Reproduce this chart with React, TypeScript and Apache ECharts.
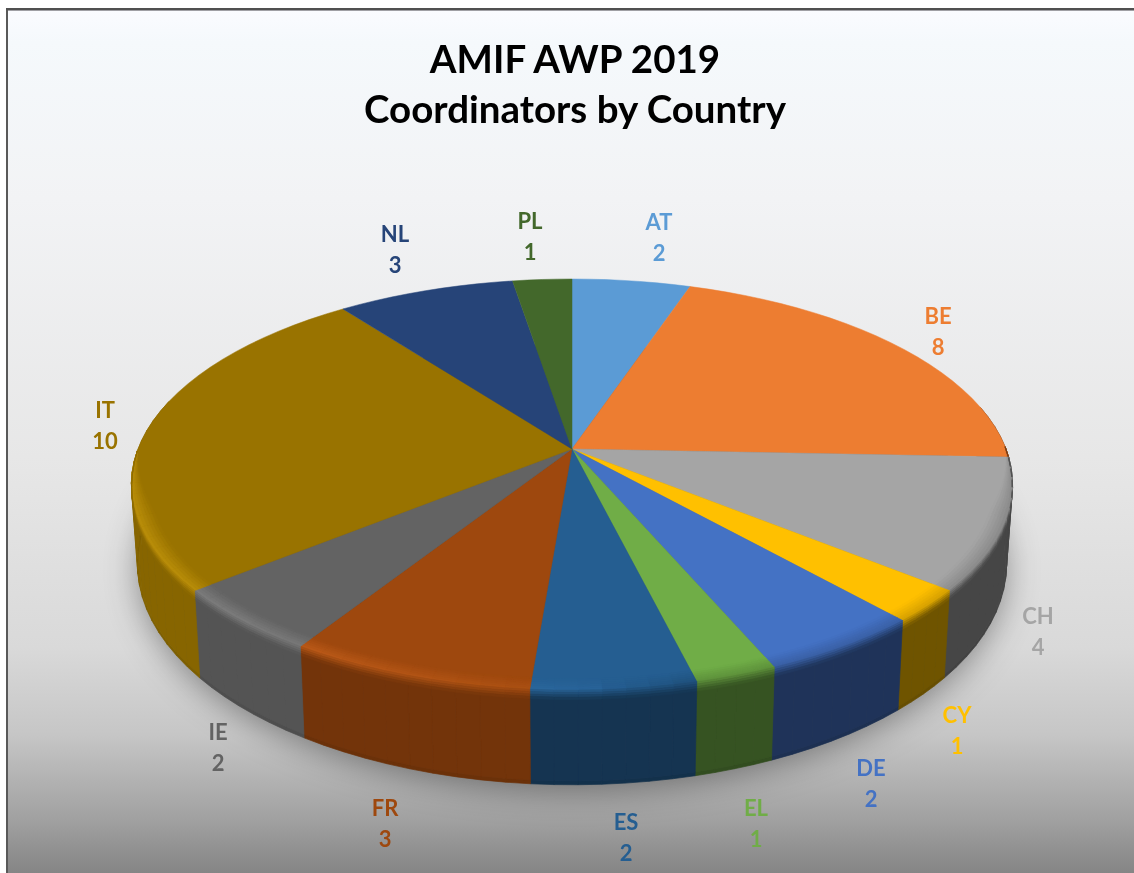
import React, { useEffect, useRef } from "react";
import * as echarts from "echarts";

const titleLines = ["AMIF AWP 2019", "Coordinators by Country"];
const countries = ["AT", "BE", "CH", "CY", "DE", "EL", "ES", "FR", "IE", "IT", "NL", "PL"];
const coordinators = [2, 8, 4, 1, 2, 1, 2, 3, 2, 10, 3, 1];
const sliceColors = ["#5b9bd5", "#ed7d31", "#a5a5a5", "#ffc000", "#4472c4", "#70ad47", "#255e91", "#9e480e", "#636363", "#997300", "#264478", "#43682b"];
const labelCentres: number[][] = [
  [659, 237], [938, 331], [1038, 631], [957, 730], [871, 783], [756, 823],
  [626, 837], [385, 823], [218, 747], [105, 425], [395, 249], [530, 236],
];

const total = coordinators.reduce((a, b) => a + b, 0);
const CX = 572;
const K = 0.173;
const TOP = { rx: 434, ry: 199.4, cy: 449 };
const BOT = { rx: 428, ry: 214, cy: 526 };
const lerp = (a: number, b: number, t: number) => a + (b - a) * t;

function project(theta: number, r: number, h: number): number[] {
  const X = r * Math.sin(theta);
  const Y = r * Math.cos(theta);
  const w = 1 + K * Y;
  return [CX + (lerp(TOP.rx, BOT.rx, h) * X) / w, lerp(TOP.cy, BOT.cy, h) - (lerp(TOP.ry, BOT.ry, h) * Y) / w];
}

function sliceAngles(i: number): number[] {
  let before = 0;
  for (let j = 0; j < i; j++) before += coordinators[j];
  return [(before / total) * Math.PI * 2, ((before + coordinators[i]) / total) * Math.PI * 2];
}

function segments(a0: number, a1: number): number[] {
  const n = Math.max(1, Math.ceil((a1 - a0) / ((3 * Math.PI) / 180)));
  const out: number[] = [];
  for (let i = 0; i <= n; i++) out.push(lerp(a0, a1, i / n));
  return out;
}

function rgb(hex: string): number[] {
  return [1, 3, 5].map((i) => parseInt(hex.slice(i, i + 2), 16));
}
const css = (c: number[]) => `rgb(${c.map((v) => Math.max(0, Math.min(255, Math.round(v)))).join(",")})`;

// brightness of the side wall by horizontal position on the disc
const wallX = [-1, -0.65, -0.3, 0.1, 0.3, 0.45, 0.65, 1];
const wallF = [0.88, 0.85, 0.72, 0.55, 0.48, 0.46, 0.44, 0.42];
function wallFactor(X: number): number {
  for (let i = 1; i < wallX.length; i++) {
    if (X <= wallX[i]) return lerp(wallF[i - 1], wallF[i], (X - wallX[i - 1]) / (wallX[i] - wallX[i - 1]));
  }
  return wallF[wallF.length - 1];
}

const RIM_STRIPS = 10;

function topItem(params: any) {
  const i = params.dataIndex;
  const [a0, a1] = sliceAngles(i);
  const pts = [[CX, TOP.cy], ...segments(a0, a1).map((t) => project(t, 1, 0))];
  return { type: "polygon", shape: { points: pts }, style: { fill: sliceColors[i], stroke: sliceColors[i], lineWidth: 0.5 } };
}

function sideItem(params: any) {
  const i = params.dataIndex;
  const [a0, a1] = sliceAngles(i);
  const ts = segments(a0, a1).filter((t) => Math.cos(t) < 0.25);
  const base = rgb(sliceColors[i]);
  const f = wallFactor(Math.sin((a0 + a1) / 2));
  const c = css(base.map((v) => v * f));
  const d = css(base.map((v) => v * f * 0.93));
  const children: any[] = [];
  // one quad per step: a single polygon would fold over itself at the disc's silhouette
  for (let s = 0; s < ts.length - 1; s++) {
    children.push({
      type: "polygon",
      shape: { points: [project(ts[s], 1, 0.96), project(ts[s + 1], 1, 0.96), project(ts[s + 1], 1, 1), project(ts[s], 1, 1)] },
      style: { fill: d, stroke: d, lineWidth: 0.7 },
    });
    children.push({
      type: "polygon",
      shape: { points: [project(ts[s], 1, 0), project(ts[s + 1], 1, 0), project(ts[s + 1], 1, 0.96), project(ts[s], 1, 0.96)] },
      style: { fill: c, stroke: c, lineWidth: 0.7 },
    });
  }
  return { type: "group", children };
}

function rimItem(params: any) {
  const i = params.dataIndex;
  const [a0, a1] = sliceAngles(i);
  const ts = segments(a0, a1);
  const base = rgb(sliceColors[i]);
  const f = wallFactor(Math.sin((a0 + a1) / 2));
  const wall = base.map((v) => v * f);
  const children: any[] = [];
  // the bevel narrows to nothing where the edge turns to the back of the disc
  const pos = (t: number, u: number) => {
    const band = Math.max(0, Math.min(1, -Math.cos(t) / 0.3));
    return u < 0.6
      ? project(t, lerp(1 - 0.04 * band, 1, u / 0.6), 0)
      : project(t, 1, lerp(0, 0.1 * band, (u - 0.6) / 0.4));
  };
  for (let s = 0; s < ts.length - 1; s++) {
    const mid = (ts[s] + ts[s + 1]) / 2;
    const Y = Math.cos(mid);
    if (Y > 0) continue;
    const X = Math.sin(mid);
    const lit = Math.max(0, Math.min(1, (0.25 - X) / 0.9));
    const peak = base.map((v) => (lit < 0.2 ? v * lerp(0.85, 1, lit * 5) : v * (1 + 0.14 * lit) + 9 * lit));
    for (let k = 0; k < RIM_STRIPS; k++) {
      const u0 = k / RIM_STRIPS;
      const u1 = (k + 1) / RIM_STRIPS;
      const u = (u0 + u1) / 2;
      const col = u < 0.55
        ? base.map((v, j) => lerp(v, peak[j], u / 0.55))
        : peak.map((v, j) => lerp(v, wall[j], (u - 0.55) / 0.45));
      const c = css(col);
      children.push({
        type: "polygon",
        shape: { points: [pos(ts[s], u0), pos(ts[s + 1], u0), pos(ts[s + 1], u1), pos(ts[s], u1)] },
        style: { fill: c, stroke: c, lineWidth: 0.6 },
      });
    }
  }
  return { type: "group", children };
}

function shadowItem() {
  const pts: number[][] = [];
  for (let d = 0; d < 360; d += 4) pts.push(project((d * Math.PI) / 180, 0.995, 1));
  return {
    type: "polygon",
    shape: { points: pts },
    style: { fill: "#555", shadowBlur: 34, shadowColor: "rgba(0,0,0,0.42)", shadowOffsetY: 6 },
  };
}

function labelItem(params: any) {
  const i = params.dataIndex;
  return {
    type: "text",
    x: labelCentres[i][0],
    y: labelCentres[i][1] - 31,
    style: {
      text: `${countries[i]}\n${coordinators[i]}`,
      fill: sliceColors[i],
      fontSize: 22,
      fontWeight: "bold",
      fontFamily: "Lato",
      lineHeight: 31,
      align: "center",
      verticalAlign: "top",
    },
  };
}

const seriesData = countries.map((name, i) => ({ name, value: coordinators[i] }));

export default function App() {
  const ref = useRef<HTMLDivElement>(null);
  useEffect(() => {
    const chart = echarts.init(ref.current!, undefined, { renderer: "svg" });
    const layer = (id: string, renderItem: any, z: number) => ({
      id,
      type: "custom",
      coordinateSystem: "none",
      renderItem,
      data: seriesData,
      silent: true,
      z,
      clip: false,
    });
    chart.setOption({
      animation: false,
      title: {
        text: titleLines.join("\n"),
        left: 570,
        top: 28,
        textAlign: "center",
        textStyle: { fontFamily: "Lato", fontWeight: "bold", fontSize: 38.5, lineHeight: 50, color: "#000" },
      },
      graphic: [
        {
          type: "rect",
          z: 0,
          shape: { x: 6, y: 8, width: 1128, height: 865 },
          style: {
            fill: new echarts.graphic.LinearGradient(0, 0, 0, 1, [
              { offset: 0, color: "#fbfcff" },
              { offset: 0.04, color: "#f5f9fc" },
              { offset: 0.22, color: "#f2f3f5" },
              { offset: 0.52, color: "#e7e7e7" },
              { offset: 0.74, color: "#d9d9d9" },
              { offset: 0.84, color: "#c6c6c6" },
              { offset: 0.94, color: "#a0a0a0" },
              { offset: 1, color: "#858585" },
            ]),
          },
        },
        { type: "rect", z: 1, shape: { x: 6, y: 8, width: 2, height: 865 }, style: { fill: "#595959" } },
        { type: "rect", z: 1, shape: { x: 6, y: 8, width: 1128, height: 2 }, style: { fill: "#505050" } },
        { type: "rect", z: 1, shape: { x: 8, y: 10, width: 1126, height: 1 }, style: { fill: "#a0a0a4" } },
      ],
      series: [
        layer("shadow", (p: any) => (p.dataIndex === 0 ? shadowItem() : { type: "group", children: [] }), 2),
        layer("sides", sideItem, 3),
        layer("tops", topItem, 4),
        layer("rims", rimItem, 5),
        layer("labels", labelItem, 6),
      ],
    });
    return () => chart.dispose();
  }, []);
  return <div ref={ref} style={{ position: "fixed", left: 0, top: 0, width: 1134, height: 873 }} />;
}
